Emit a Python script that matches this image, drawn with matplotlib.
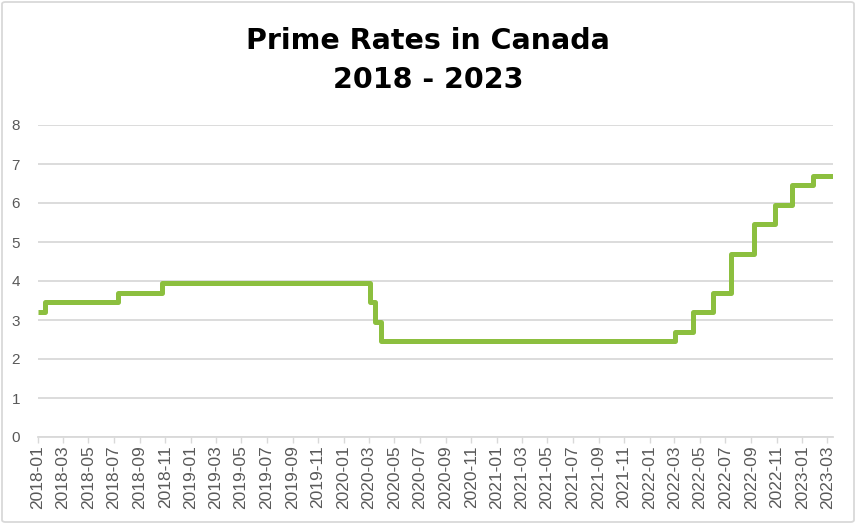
import matplotlib
matplotlib.use("Agg")
import matplotlib.pyplot as plt
import matplotlib.dates as mdates
from matplotlib.patches import FancyBboxPatch
import numpy as np
import pandas as pd

# prime rate changes (date the rate took effect, rate %)
change_dates = ['2018-01-01', '2018-01-18', '2018-07-12', '2018-10-25',
                '2020-03-05', '2020-03-16', '2020-03-30',
                '2022-03-03', '2022-04-14', '2022-06-02', '2022-07-14',
                '2022-09-08', '2022-10-27', '2022-12-08', '2023-01-26',
                '2023-03-15']
rates = [3.20, 3.45, 3.70, 3.95,
         3.45, 2.95, 2.45,
         2.70, 3.20, 3.70, 4.70,
         5.45, 5.95, 6.45, 6.70,
         6.70]

title = 'Prime Rates in Canada\n2018 - 2023'
line_color = '#8CBF3F'
grid_color = '#D9D9D9'
text_color = '#595959'

dates = pd.to_datetime(change_dates)

fig = plt.figure(figsize=(8.56, 5.24), dpi=100)
ax = fig.add_axes([38/856, 1 - 437/524, (833-38)/856, (437-125)/524])

ax.plot(dates, rates, color=line_color, linewidth=3.6, drawstyle='steps-post',
        solid_joinstyle='round', solid_capstyle='butt', zorder=3)

ax.set_xlim(pd.Timestamp('2018-01-01'), pd.Timestamp('2023-03-15'))
ax.set_ylim(0, 8)
ax.set_yticks(np.arange(0, 9, 1))
ax.yaxis.grid(True, color=grid_color, linewidth=1.3)
ax.set_axisbelow(True)

ax.xaxis.set_major_locator(mdates.MonthLocator(bymonth=[1, 3, 5, 7, 9, 11]))
ax.xaxis.set_major_formatter(mdates.DateFormatter('%Y-%m'))
for lab in ax.get_xticklabels():
    lab.set_rotation(90)

for s in ['top', 'right', 'left']:
    ax.spines[s].set_visible(False)
ax.spines['bottom'].set_color(grid_color)
ax.spines['bottom'].set_linewidth(1.3)

font = 'Liberation Sans'
ax.tick_params(axis='y', length=0, pad=13, labelsize=11, labelcolor=text_color)
ax.tick_params(axis='x', length=4, width=1, color=grid_color, pad=2,
               labelsize=12.5, labelcolor=text_color)
for lab in ax.get_xticklabels() + ax.get_yticklabels():
    lab.set_fontfamily(font)

fig.text(0.5, 1 - 61/524, title, ha='center', va='center', fontsize=20.5,
         fontweight='bold', family='DejaVu Sans', linespacing=1.5, color='black')

border = FancyBboxPatch((2/856, 2/524), 852/856, 520/524,
                        boxstyle='round,pad=0,rounding_size=0.004',
                        transform=fig.transFigure, facecolor='none',
                        edgecolor=grid_color, linewidth=1.3)
fig.patches.append(border)

fig.savefig('out.png', dpi=100)
